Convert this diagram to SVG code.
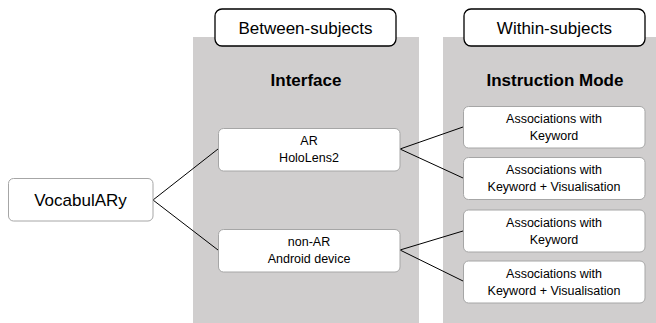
<svg xmlns="http://www.w3.org/2000/svg" width="656" height="323" viewBox="0 0 656 323">
<style>
.panel{fill:#d0cece;stroke:none}
.hdr{fill:#fff;stroke:#000;stroke-width:1.3}
.node{fill:#fff;stroke:#a6a6a6;stroke-width:1}
.t17{font-family:"Liberation Sans",Arial,sans-serif;font-size:17px;fill:#000;text-anchor:middle}
.tb{font-family:"Liberation Sans",Arial,sans-serif;font-size:17px;font-weight:bold;fill:#000;text-anchor:middle}
.t12{font-family:"Liberation Sans",Arial,sans-serif;font-size:12.5px;fill:#000;text-anchor:middle}
.con{stroke:#000;stroke-width:1;fill:none}
</style>
<rect width="656" height="323" fill="#fff"/>
<g id="panel-between">
<rect class="panel" x="193" y="37" width="226" height="286"/>
<text class="tb" x="306" y="86">Interface</text>
</g>
<g id="panel-within">
<rect class="panel" x="443" y="37" width="226" height="286"/>
<text class="tb" x="555" y="86">Instruction Mode</text>
</g>
<g id="header-between">
<rect class="hdr" x="215" y="9" width="181" height="37" rx="7"/>
<text class="t17" x="305.5" y="34">Between-subjects</text>
</g>
<g id="header-within">
<rect class="hdr" x="464" y="9" width="181" height="37" rx="7"/>
<text class="t17" x="554.5" y="34">Within-subjects</text>
</g>
<g id="connectors">
<line class="con" x1="153" y1="200" x2="218" y2="149"/>
<line class="con" x1="153" y1="200" x2="218" y2="250"/>
<line class="con" x1="400" y1="149" x2="463" y2="127"/>
<line class="con" x1="400" y1="149" x2="463" y2="178"/>
<line class="con" x1="400" y1="250" x2="463" y2="231"/>
<line class="con" x1="400" y1="250" x2="463" y2="281"/>
</g>
<g id="vocabulary">
<rect class="node" x="8.5" y="178.5" width="144.5" height="42.5" rx="5"/>
<text class="t17" x="80.5" y="206">VocabulARy</text>
</g>
<g id="ar">
<rect class="node" x="218.5" y="128.5" width="181.5" height="42.5" rx="5"/>
<text class="t12" x="309" y="145">AR</text>
<text class="t12" x="309" y="162.3">HoloLens2</text>
</g>
<g id="non-ar">
<rect class="node" x="218.5" y="229.5" width="181.5" height="42.5" rx="5"/>
<text class="t12" x="309" y="246">non-AR</text>
<text class="t12" x="309" y="263.3">Android device</text>
</g>
<g id="ar-keyword">
<rect class="node" x="463.5" y="106.5" width="181.5" height="41.5" rx="5"/>
<text class="t12" x="554" y="122.5">Associations with</text>
<text class="t12" x="554" y="140">Keyword</text>
</g>
<g id="ar-keyword-vis">
<rect class="node" x="463.5" y="157.5" width="181.5" height="42" rx="5"/>
<text class="t12" x="554" y="173.5">Associations with</text>
<text class="t12" x="554" y="191">Keyword + Visualisation</text>
</g>
<g id="nonar-keyword">
<rect class="node" x="463.5" y="210" width="181.5" height="42" rx="5"/>
<text class="t12" x="554" y="226.5">Associations with</text>
<text class="t12" x="554" y="244">Keyword</text>
</g>
<g id="nonar-keyword-vis">
<rect class="node" x="463.5" y="261" width="181.5" height="42" rx="5"/>
<text class="t12" x="554" y="277.5">Associations with</text>
<text class="t12" x="554" y="295">Keyword + Visualisation</text>
</g>
</svg>
